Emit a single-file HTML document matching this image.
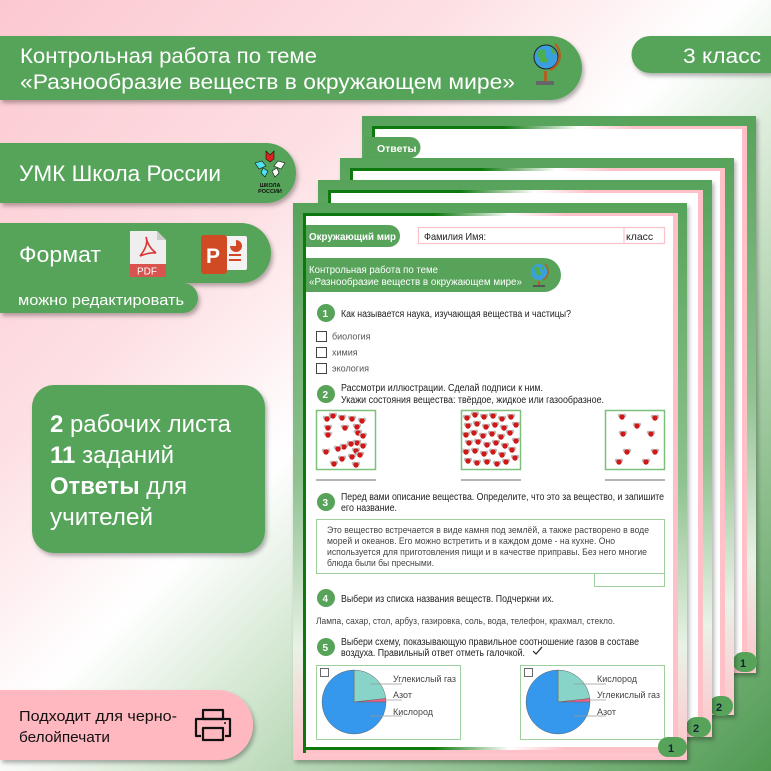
<!DOCTYPE html>
<html><head><meta charset="utf-8"><style>
html,body{margin:0;padding:0;width:771px;height:771px;overflow:hidden}
svg{display:block}
text{font-family:"Liberation Sans","DejaVu Sans",sans-serif}
</style></head><body>
<svg width="771" height="771" viewBox="0 0 771 771" xmlns="http://www.w3.org/2000/svg">
<defs>
<linearGradient id="bg" x1="0" y1="0" x2="1" y2="1">
<stop offset="0" stop-color="#fcc8d0"/><stop offset="0.3" stop-color="#fde0e4"/><stop offset="0.48" stop-color="#ffffff"/><stop offset="0.62" stop-color="#cfe5cd"/><stop offset="1" stop-color="#4f9a52"/>
</linearGradient>
<linearGradient id="sh" x1="0" y1="0" x2="0" y2="1">
<stop offset="0" stop-color="#57a35a"/><stop offset="0.5" stop-color="#8fc290"/><stop offset="0.8" stop-color="#e9f2e6"/><stop offset="1" stop-color="#ffc3cb"/>
</linearGradient>
<linearGradient id="tl" x1="0" y1="0" x2="1" y2="0">
<stop offset="0" stop-color="#0c780c"/><stop offset="0.35" stop-color="#0c780c"/><stop offset="0.55" stop-color="#ffffff"/><stop offset="0.7" stop-color="#ffc0c8"/><stop offset="1" stop-color="#ffc0c8"/>
</linearGradient>
<filter id="ds" x="-10%" y="-20%" width="130%" height="150%"><feDropShadow dx="2" dy="3" stdDeviation="2" flood-color="#000" flood-opacity="0.3"/></filter>
<g id="mol"><circle cx="-2.4" cy="-1.6" r="1.8" fill="#bbb"/><circle cx="2.4" cy="-1.6" r="1.8" fill="#bbb"/><circle cx="0" cy="0" r="2.7" fill="#d01818"/></g>
<g id="frame">
<rect x="0" y="0" width="394" height="557" fill="url(#sh)"/>
<rect x="10" y="10" width="375" height="540" fill="#ffc0c8"/>
<rect x="13" y="13" width="367" height="531" fill="#fff"/>
<rect x="10" y="10" width="3" height="540" fill="#0c780c"/>
<rect x="10" y="10" width="375" height="3" fill="url(#tl)"/>
<rect x="10" y="544" width="375" height="3" fill="url(#tl)"/>
</g>
</defs>
<rect width="771" height="771" fill="url(#bg)"/>

<g filter="url(#ds)"><use href="#frame" x="362" y="116"/></g>
<path d="M364 137 H410 A10.5 10.5 0 0 1 410 158 H364Z" fill="#57a35a"/>
<text x="377" y="152" font-size="10.5" font-weight="bold" fill="#fff">Ответы</text>
<rect x="733" y="652" width="24" height="20" rx="10" fill="#57a35a"/><text x="740" y="667" font-size="11" font-weight="bold" fill="#123">1</text>
<g filter="url(#ds)"><use href="#frame" x="340" y="158"/></g>
<rect x="709" y="696" width="24" height="20" rx="10" fill="#57a35a"/><text x="716" y="711" font-size="11" font-weight="bold" fill="#123">2</text>
<g filter="url(#ds)"><use href="#frame" x="318" y="180"/></g>
<rect x="686" y="717" width="25" height="20" rx="10" fill="#57a35a"/><text x="693" y="732" font-size="11" font-weight="bold" fill="#123">2</text>
<g filter="url(#ds)"><use href="#frame" x="293" y="203"/></g>

<path d="M306 225 H389 A11 11 0 0 1 389 247 H306Z" fill="#57a35a"/>
<text x="309" y="240" font-size="10" font-weight="bold" fill="#fff" textLength="87" lengthAdjust="spacingAndGlyphs">Окружающий мир</text>
<rect x="418.5" y="227.5" width="246" height="16" fill="#fff" stroke="#ffc0c8" stroke-width="1.2"/>
<line x1="624" y1="227.5" x2="624" y2="243.5" stroke="#ffc0c8" stroke-width="1.2"/>
<text x="424" y="240" font-size="10.5" fill="#222" textLength="62" lengthAdjust="spacingAndGlyphs">Фамилия Имя:</text>
<text x="626" y="240" font-size="10.5" fill="#222">класс</text>
<path d="M306 258 H544 A17 17 0 0 1 544 292 H306Z" fill="#57a35a"/>
<text x="309" y="273" font-size="10" fill="#fff" textLength="129" lengthAdjust="spacingAndGlyphs">Контрольная работа по теме</text>
<text x="309" y="285" font-size="10" fill="#fff" textLength="213" lengthAdjust="spacingAndGlyphs">«Разнообразие веществ в окружающем мире»</text>
<circle cx="539" cy="272" r="8" fill="#3a9fe0"/><path d="M534 268 q3 -3 6 0 q-1 4 2 6 q-3 3 -6 0z M541 265 q3 2 3 6 l-2 -1z" fill="#4cae4c"/>
<path d="M545 264 a10 10 0 0 1 -2 16" stroke="#b06020" stroke-width="1.5" fill="none"/>
<rect x="533" y="285" width="12" height="2" fill="#555"/><rect x="538" y="281" width="2" height="4" fill="#b06020"/>

<g font-size="10" fill="#222">
<circle cx="326" cy="313" r="9" fill="#57a35a"/><text x="322.5" y="317" font-size="10" font-weight="bold" fill="#fff">1</text>
<text x="341" y="317" textLength="230" lengthAdjust="spacingAndGlyphs">Как называется наука, изучающая вещества и частицы?</text>
<g fill="none" stroke="#444" stroke-width="1"><rect x="316.5" y="331.5" width="10" height="10"/><rect x="316.5" y="347.5" width="10" height="10"/><rect x="316.5" y="363.5" width="10" height="10"/></g>
<text x="332" y="339.5" font-size="9" fill="#555">биология</text>
<text x="332" y="355.5" font-size="9" fill="#555">химия</text>
<text x="332" y="371.5" font-size="9" fill="#555">экология</text>
<circle cx="326" cy="394" r="9" fill="#57a35a"/><text x="322.5" y="398" font-size="10" font-weight="bold" fill="#fff">2</text>
<text x="341" y="391" textLength="202" lengthAdjust="spacingAndGlyphs">Рассмотри иллюстрации. Сделай подписи к ним.</text>
<text x="341" y="403" textLength="263" lengthAdjust="spacingAndGlyphs">Укажи состояния вещества: твёрдое, жидкое или газообразное.</text>
</g>
<g fill="#fff" stroke="#7cc07c" stroke-width="1.5">
<rect x="316.5" y="410.5" width="59" height="59"/><rect x="461.5" y="410.5" width="59" height="59"/><rect x="605.5" y="410.5" width="59" height="59"/>
</g>
<g stroke="#888" stroke-width="1.2"><line x1="316" y1="480" x2="376" y2="480"/><line x1="461" y1="480" x2="521" y2="480"/><line x1="605" y1="480" x2="665" y2="480"/></g>
<g>
<use href="#mol" x="327" y="419"/><use href="#mol" x="333" y="416"/><use href="#mol" x="342" y="418"/><use href="#mol" x="352" y="419"/><use href="#mol" x="362" y="421"/><use href="#mol" x="357" y="427"/>
<use href="#mol" x="328" y="428"/><use href="#mol" x="328" y="435"/><use href="#mol" x="345" y="428"/><use href="#mol" x="358" y="433"/><use href="#mol" x="363" y="436"/>
<use href="#mol" x="357" y="443"/><use href="#mol" x="363" y="446"/><use href="#mol" x="351" y="444"/><use href="#mol" x="344" y="447"/><use href="#mol" x="338" y="449"/><use href="#mol" x="356" y="451"/><use href="#mol" x="360" y="455"/>
<use href="#mol" x="326" y="452"/><use href="#mol" x="342" y="459"/><use href="#mol" x="352" y="457"/><use href="#mol" x="334" y="464"/><use href="#mol" x="356" y="465"/>
</g>
<g>
<use href="#mol" x="467" y="418"/><use href="#mol" x="475" y="415"/><use href="#mol" x="484" y="417"/><use href="#mol" x="493" y="416"/><use href="#mol" x="502" y="419"/><use href="#mol" x="511" y="417"/><use href="#mol" x="516" y="425"/>
<use href="#mol" x="468" y="426"/><use href="#mol" x="477" y="424"/><use href="#mol" x="486" y="427"/><use href="#mol" x="495" y="425"/><use href="#mol" x="504" y="428"/><use href="#mol" x="510" y="433"/>
<use href="#mol" x="466" y="435"/><use href="#mol" x="474" y="433"/><use href="#mol" x="483" y="436"/><use href="#mol" x="492" y="434"/><use href="#mol" x="501" y="437"/><use href="#mol" x="516" y="441"/>
<use href="#mol" x="469" y="443"/><use href="#mol" x="478" y="442"/><use href="#mol" x="487" y="445"/><use href="#mol" x="496" y="443"/><use href="#mol" x="505" y="446"/><use href="#mol" x="512" y="450"/>
<use href="#mol" x="466" y="452"/><use href="#mol" x="475" y="451"/><use href="#mol" x="484" y="454"/><use href="#mol" x="493" y="452"/><use href="#mol" x="502" y="455"/><use href="#mol" x="515" y="458"/>
<use href="#mol" x="468" y="461"/><use href="#mol" x="477" y="463"/><use href="#mol" x="487" y="462"/><use href="#mol" x="497" y="464"/><use href="#mol" x="506" y="462"/>
</g>
<g>
<use href="#mol" x="622" y="417"/><use href="#mol" x="655" y="418"/><use href="#mol" x="637" y="426"/><use href="#mol" x="623" y="434"/><use href="#mol" x="651" y="434"/>
<use href="#mol" x="627" y="452"/><use href="#mol" x="655" y="452"/><use href="#mol" x="619" y="462"/><use href="#mol" x="646" y="462"/>
</g>

<g font-size="10" fill="#222">
<circle cx="326" cy="502" r="9" fill="#57a35a"/><text x="322.5" y="506" font-size="10" font-weight="bold" fill="#fff">3</text>
<text x="341" y="500" textLength="323" lengthAdjust="spacingAndGlyphs">Перед вами описание вещества. Определите, что это за вещество, и запишите</text>
<text x="341" y="511" textLength="56" lengthAdjust="spacingAndGlyphs">его название.</text>
</g>
<rect x="316.5" y="519.5" width="348" height="54" fill="#fff" stroke="#9ed09e" stroke-width="1"/>
<rect x="594.5" y="573.5" width="70" height="13" fill="#fff" stroke="#9ed09e" stroke-width="1"/>
<g font-size="9" fill="#444">
<text x="327" y="533" textLength="322" lengthAdjust="spacingAndGlyphs">Это вещество встречается в виде камня под землёй, а также растворено в воде</text>
<text x="327" y="544" textLength="288" lengthAdjust="spacingAndGlyphs">морей и океанов. Его можно встретить и в каждом доме - на кухне. Оно</text>
<text x="327" y="555" textLength="320" lengthAdjust="spacingAndGlyphs">используется для приготовления пищи и в качестве приправы. Без него многие</text>
<text x="327" y="566" textLength="107" lengthAdjust="spacingAndGlyphs">блюда были бы пресными.</text>
</g>
<g font-size="10" fill="#222">
<circle cx="326" cy="598" r="9" fill="#57a35a"/><text x="322.5" y="602" font-size="10" font-weight="bold" fill="#fff">4</text>
<text x="341" y="602" textLength="213" lengthAdjust="spacingAndGlyphs">Выбери из списка названия веществ. Подчеркни их.</text>
<text x="316" y="624" font-size="9" fill="#444" textLength="299" lengthAdjust="spacingAndGlyphs">Лампа, сахар, стол, арбуз, газировка, соль, вода, телефон, крахмал, стекло.</text>
<circle cx="326" cy="647" r="9" fill="#57a35a"/><text x="322.5" y="651" font-size="10" font-weight="bold" fill="#fff">5</text>
<text x="341" y="645" textLength="298" lengthAdjust="spacingAndGlyphs">Выбери схему, показывающую правильное соотношение газов в составе</text>
<text x="341" y="656" textLength="184" lengthAdjust="spacingAndGlyphs">воздуха. Правильный ответ отметь галочкой.</text>
</g>
<path d="M533 651 l3 3 l6 -7" fill="none" stroke="#222" stroke-width="1.2"/>
<g fill="#fff" stroke="#9ed09e" stroke-width="1"><rect x="316.5" y="665.5" width="144" height="74"/><rect x="520.5" y="665.5" width="144" height="74"/></g>
<g fill="none" stroke="#444" stroke-width="0.8"><rect x="320.5" y="668.5" width="8" height="8"/><rect x="524.5" y="668.5" width="8" height="8"/></g>
<g stroke="#666" stroke-width="0.5">
<path d="M354 702 L354 670 A32 32 0 0 1 385.8 698.5 Z" fill="#88d4c8"/>
<path d="M354 702 L385.8 698.5 A32 32 0 0 1 386 702 Z" fill="#f0608a"/>
<path d="M354 702 L386 702 A32 32 0 1 1 354 670 Z" fill="#3598ec"/>
<path d="M558 702 L558 670 A32 32 0 0 1 589.8 698.5 Z" fill="#88d4c8"/>
<path d="M558 702 L589.8 698.5 A32 32 0 0 1 590 702 Z" fill="#f0608a"/>
<path d="M558 702 L590 702 A32 32 0 1 1 558 670 Z" fill="#3598ec"/>
</g>
<g stroke="#999" stroke-width="0.7">
<line x1="370" y1="684" x2="402" y2="684"/><line x1="386" y1="700" x2="402" y2="700"/><line x1="370" y1="716" x2="402" y2="716"/>
<line x1="574" y1="684" x2="606" y2="684"/><line x1="590" y1="700" x2="606" y2="700"/><line x1="574" y1="716" x2="606" y2="716"/>
</g>
<g font-size="9" fill="#444">
<text x="393" y="682" textLength="63" lengthAdjust="spacingAndGlyphs">Углекислый газ</text><text x="393" y="698">Азот</text><text x="393" y="715" textLength="40" lengthAdjust="spacingAndGlyphs">Кислород</text>
<text x="597" y="682" textLength="40" lengthAdjust="spacingAndGlyphs">Кислород</text><text x="597" y="698" textLength="63" lengthAdjust="spacingAndGlyphs">Углекислый газ</text><text x="597" y="715">Азот</text>
</g>
<rect x="658" y="737" width="29" height="20" rx="10" fill="#57a35a"/><text x="668" y="752" font-size="11" font-weight="bold" fill="#123">1</text>

<g filter="url(#ds)" fill="#57a35a">
<path d="M0 36 H550 A32 32 0 0 1 582 68 A32 32 0 0 1 550 100 H0Z"/>
<path d="M650 36 H771 V73 H650 A18.5 18.5 0 0 1 650 36Z"/>
<path d="M0 143 H266 A30 30 0 0 1 266 203 H0Z"/>
<path d="M0 283 H183 A15 15 0 0 1 183 313 H0Z"/>
<path d="M0 223 H241 A30 30 0 0 1 241 283 H0Z"/>
<rect x="32" y="385" width="233" height="168" rx="22"/>
</g>
<path d="M0 690 H218 A35 35 0 0 1 218 760 H0Z" fill="#ffb7c0" filter="url(#ds)"/>

<g fill="#fff">
<text x="20" y="63" font-size="21" textLength="297" lengthAdjust="spacingAndGlyphs">Контрольная работа по теме</text>
<text x="20" y="89" font-size="21" textLength="495" lengthAdjust="spacingAndGlyphs">«Разнообразие веществ в окружающем мире»</text>
<text x="683" y="63" font-size="21" textLength="78" lengthAdjust="spacingAndGlyphs">3 класс</text>
<text x="19" y="181" font-size="22" textLength="202" lengthAdjust="spacingAndGlyphs">УМК Школа России</text>
<text x="19" y="262" font-size="22" textLength="82" lengthAdjust="spacingAndGlyphs">Формат</text>
<text x="18" y="305" font-size="15" textLength="166" lengthAdjust="spacingAndGlyphs">можно редактировать</text>
<text x="50" y="432" font-size="24" textLength="181" lengthAdjust="spacingAndGlyphs"><tspan font-weight="bold">2</tspan> рабочих листа</text>
<text x="50" y="463" font-size="24" textLength="124" lengthAdjust="spacingAndGlyphs"><tspan font-weight="bold">11</tspan> заданий</text>
<text x="50" y="494" font-size="24" textLength="137" lengthAdjust="spacingAndGlyphs"><tspan font-weight="bold">Ответы</tspan> для</text>
<text x="50" y="525" font-size="24" textLength="103" lengthAdjust="spacingAndGlyphs">учителей</text>
</g>
<text x="19" y="721" font-size="15" fill="#111" textLength="158" lengthAdjust="spacingAndGlyphs">Подходит для черно-</text>
<text x="19" y="742" font-size="15" fill="#111" textLength="91" lengthAdjust="spacingAndGlyphs">белойпечати</text>
<g fill="none" stroke="#111" stroke-width="2.2" stroke-linejoin="round">
<rect x="203" y="710" width="20" height="9"/>
<path d="M201 736 H196 V719 H230 V736 H225"/>
<rect x="203" y="728" width="20" height="12"/>
</g>
<circle cx="225" cy="723" r="1" fill="#111"/>
<circle cx="546" cy="57" r="12" fill="#3a9fe0" stroke="#222" stroke-width="1"/>
<path d="M537 53 q4 -6 9 -2 q-2 6 3 9 q-4 5 -9 1z M550 47 q5 2 6 8 l-4 -2z" fill="#4cae4c"/>
<path d="M555 44 a16 16 0 0 1 -5 26" stroke="#b06020" stroke-width="2.5" fill="none"/>
<rect x="536" y="81" width="18" height="4" fill="#666"/><rect x="544" y="71" width="3" height="10" fill="#b06020"/>
<g>
<path d="M266 151 l4 4 l4 -4 v8 l-4 3 l-4 -3z" fill="#e02020" stroke="#111" stroke-width="0.6"/>
<path d="M255 163 l7 -2 l4 5 l-7 3z" fill="#50e0f0" stroke="#111" stroke-width="0.6"/>
<path d="M285 163 l-7 -2 l-4 5 l7 3z" fill="#fff" stroke="#111" stroke-width="0.6"/>
<path d="M263 168 l5 3 l-3 6 l-4 -4z" fill="#50e0f0" stroke="#111" stroke-width="0.6"/>
<path d="M277 168 l-5 3 l3 6 l4 -4z" fill="#fff" stroke="#111" stroke-width="0.6"/>
<text x="270" y="187" font-size="5.5" font-weight="bold" fill="#111" text-anchor="middle">ШКОЛА</text>
<text x="270" y="193" font-size="5.5" font-weight="bold" fill="#111" text-anchor="middle">РОССИИ</text>
</g>
<path d="M130 231 H157 L166 240 V276 H130Z" fill="#eeeeee"/>
<path d="M157 231 V240 H166Z" fill="#cccccc"/>
<path d="M146 237 q3 8 -6 19 q10 -4 16 -3 q-8 -6 -10 -16z" fill="none" stroke="#d33" stroke-width="1.6"/>
<rect x="130" y="264" width="36" height="13" fill="#d9534f"/>
<text x="137" y="274.5" font-size="10" fill="#fff">PDF</text>
<rect x="224" y="236" width="23" height="34" rx="2" fill="#f3f3f3"/>
<path d="M230 246 a6 6 0 1 0 6 -6 v6z" fill="#d24726"/>
<rect x="229" y="254" width="12" height="2" fill="#d24726"/><rect x="229" y="259" width="12" height="2" fill="#d24726"/>
<rect x="201" y="235" width="26" height="39" rx="3" fill="#d04a24"/>
<text x="206" y="263" font-size="21" font-weight="bold" fill="#fff">P</text>
</svg>
</body></html>
